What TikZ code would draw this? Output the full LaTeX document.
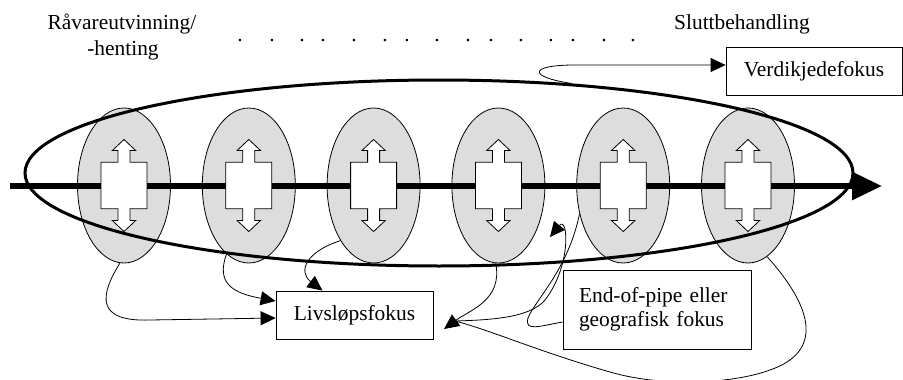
\documentclass[tikz,border=0pt]{standalone}
\usepackage{fontspec}
\setmainfont{Liberation Serif}
\usetikzlibrary{arrows.meta,shapes.geometric,calc}
\definecolor{stagegray}{RGB}{221,221,221}
\begin{document}
\begin{tikzpicture}[x=1pt,y=-1pt,
  lbl/.style={font=\fontsize{21.4}{25}\selectfont, inner sep=0pt},
  stage/.style={ellipse, draw, line width=0.8pt, fill=stagegray, minimum width=93pt, minimum height=155pt, inner sep=0pt},
  dbl/.style={draw, line width=0.8pt, fill=white},
  focusbox/.style={rectangle, draw, fill=white, line width=0.8pt, font=\fontsize{21.4}{24}\selectfont, inner sep=0pt},
  conn/.style={line width=0.8pt},
  arr/.style={-{Triangle[length=15pt,width=14pt]}},
]
\useasboundingbox (0,0) rectangle (903,380);
\clip (0,0) rectangle (903,380);

% life-cycle stages
\foreach \i/\x in {1/124,2/248.8,3/373.6,4/498.4,5/623.2,6/748}
  \node[stage] (e\i) at (\x,185.5) {};

% main axis
\coordinate (ax0) at (10,186);
\coordinate (ax1) at (882,186);
\draw[line width=6pt, -{Triangle[length=30pt,width=27pt]}] (ax0) -- (ax1);

% double arrows
\foreach \i in {1,...,6}
  \draw[dbl, shift={(e\i.center)}] (0,-46) -- (11.7,-35) -- (6,-35) -- (6,-23.3) -- (23,-23.3) -- (23,23.3) -- (6,23.3) -- (6,35) -- (11.7,35) -- (0,46) -- (-11.7,35) -- (-6,35) -- (-6,23.3) -- (-23,23.3) -- (-23,-23.3) -- (-6,-23.3) -- (-6,-35) -- (-11.7,-35) -- cycle;

% value chain ellipse
\node[ellipse, draw, line width=3pt, minimum width=828pt, minimum height=186pt, inner sep=0pt] (big) at (439,173) {};

% labels
\node[lbl, anchor=base] (raw1) at (122,30) {Råvareutvinning/};
\node[lbl, anchor=base] (raw2) at (123,55) {-henting};
\node[lbl, anchor=base] (slutt) at (742,30) {Sluttbehandling};
\foreach \x [count=\k] in {240,272,302,323,354,385,407,437,468,491,521,551,573,604,633}
  \node[lbl, anchor=base] (dot\k) at (\x,41.5) {.};

% focus boxes
\node[focusbox, minimum width=176pt, minimum height=48pt] (verd) at (814,71) {Verdikjedefokus};
\node[focusbox, minimum width=157pt, minimum height=48pt] (liv) at (354.5,315) {Livsløpsfokus};
\node[focusbox, minimum width=188pt, minimum height=79pt, text width=156pt, align=left, inner xsep=16pt] (eop) at (657,309.5) {End-of-pipe eller\\geografisk fokus};

% free connector ends
\coordinate (lr) at (444,329);
\coordinate (jn) at (455,321);
\coordinate (ya) at (550,237);

% connectors
\draw[conn, arr] (big.34) .. controls (528,77) and (528,65) .. (575,65) -- ($(verd.west)+(0,-6)$);
\draw[conn, arr] (e1.-93) .. controls (100,295) and (95,322) .. (150,320) -- ($(liv.west)+(0,3)$);
\draw[conn, arr] (e2.-108) .. controls (216,283) and (232,293) .. ($(liv.west)+(0,-14)$);
\draw[conn, arr] (e3.-121) .. controls (305,252) and (298,272) .. ($(liv.north)+(-32,0)$);
\draw[conn, arr] (e4.-92) .. controls (503,300) and (470,310) .. (lr);
\draw[conn] (e6.-75) .. controls (815,310) and (822,352) .. (770,370) .. controls (735,383) and (665,388) .. (610,372) .. controls (540,352) and (490,330) .. (jn);
\draw[conn, arr] (jn) .. controls (490,320) and (530,318) .. (545,300) .. controls (572,265) and (568,215) .. (ya);
\draw[conn] (e5.-147) .. controls (568,270) and (535,300) .. (528,318) .. controls (524,332) and (540,326) .. (eop.west |- 0,322);
\end{tikzpicture}
\end{document}
